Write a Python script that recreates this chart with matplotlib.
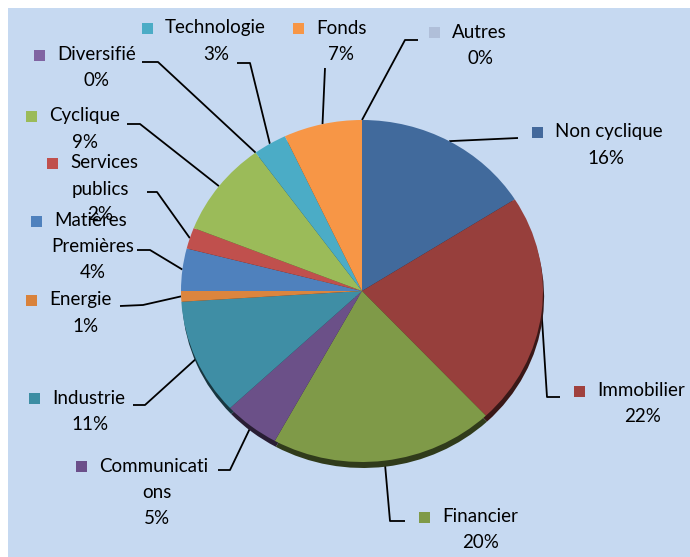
import numpy as np
import matplotlib.pyplot as plt
import matplotlib.colors as mcolors
from matplotlib.patches import Rectangle

# sector breakdown, clockwise from 12 o'clock
sectors = ["Non cyclique", "Immobilier", "Financier", "Communications",
           "Industrie", "Energie", "Matières Premières", "Services publics",
           "Cyclique", "Diversifié", "Technologie", "Fonds", "Autres"]
shares = [16, 22, 20, 5, 11, 1, 4, 2, 9, 0, 3, 7, 0]

# how the names are wrapped in the chart
label_lines = [["Non cyclique"], ["Immobilier"], ["Financier"],
               ["Communicati", "ons"], ["Industrie"], ["Energie"],
               ["Matières", "Premières"], ["Services", "publics"],
               ["Cyclique"], ["Diversifié"], ["Technologie"], ["Fonds"],
               ["Autres"]]

slice_colors = ["#416A9C", "#973F3C", "#7F9A48", "#6B5088", "#3F8EA5",
                "#DC853E", "#4F81BD", "#C0504D", "#9BBB59", "#8064A2",
                "#4BACC6", "#F79646", "#B0BFD9"]
marker_colors = ["#43699C", "#A0413E", "#7F9A48", "#6B4F8A", "#3C8DA3",
                 "#D9823B", "#4F81BD", "#C0504D", "#9BBB59", "#8064A2",
                 "#4BACC6", "#F79646", "#B0BFD9"]

# label layout in pixels: left of name text, first line y, centre of other lines
label_pos = [(555, 132, 606), (597, 391, 643), (442, 517, 481),
             (99, 466, 157), (52, 398, 90), (49, 300, 85),
             (54, 221, 93), (70, 163, 100), (49, 116, 85),
             (57, 55, 97), (165, 28, 216), (316, 28, 341),
             (452, 32, 480)]
# leader line points on the label side (pixels), the pie end is computed
leaders = [[(518, 138)], [(560, 397), (547, 397)], [(405, 521), (390, 521)],
           [(218, 470), (230, 470)], [(133, 405), (145, 405)],
           [(120, 306), (143, 305)], [(137, 250), (150, 250)],
           [(147, 192), (157, 192)], [(127, 124), (140, 124)],
           [(142, 62), (158, 62)], [(237, 63), (250, 63)],
           [(325, 68)], [(418, 40), (405, 40)]]

W, H = 690, 557
fig = plt.figure(figsize=(W / 100, H / 100), dpi=100)
fig.patch.set_facecolor("white")

bg = fig.add_axes([0, 0, 1, 1])
bg.set_xlim(0, W)
bg.set_ylim(H, 0)
bg.axis("off")
bg.add_patch(Rectangle((8, 8), W - 8, H - 8, facecolor="#C6D9F1",
                       edgecolor="none", zorder=0))

# pie axes: ellipse box 181..543 x 120..462 px
pl, pr, pt, pb = 181, 543, 120, 462
pax = fig.add_axes([pl / W, (H - pb) / H, (pr - pl) / W, (pb - pt) / H])
pax.patch.set_alpha(0)

shadow_colors = [np.array(mcolors.to_rgb(c)) * 0.38 for c in slice_colors]
sh, _ = pax.pie(shares, colors=shadow_colors, startangle=90, counterclock=False,
                center=(0.006, -0.035), wedgeprops=dict(linewidth=0))
for w in sh:
    w.set_clip_on(False)
wedges, _ = pax.pie(shares, colors=slice_colors, startangle=90,
                    counterclock=False, wedgeprops=dict(linewidth=0))
for w in wedges:
    w.set_clip_on(False)
pax.set_aspect("auto")
pax.set_xlim(-1, 1)
pax.set_ylim(-1, 1)
pax.axis("off")

font = "Lato"
fs = 13.5
to_bg = bg.transData.inverted()
for i, name in enumerate(sectors):
    x0, y0, cx = label_pos[i]
    lines = label_lines[i]
    bg.add_patch(Rectangle((x0 - 18 - 5.5, y0 - 5.5), 11, 11,
                           facecolor=marker_colors[i], edgecolor="none", zorder=3))
    bg.text(x0, y0, lines[0], ha="left", va="center", fontsize=fs,
            family=font, color="black", zorder=4)
    rest = lines[1:] + ["%d%%" % round(shares[i])]
    for k, t in enumerate(rest):
        bg.text(cx, y0 + 26 * (k + 1), t, ha="center", va="center",
                fontsize=fs, family=font, color="black", zorder=4)

    w = wedges[i]
    mid = np.deg2rad((w.theta1 + w.theta2) / 2)
    disp = pax.transData.transform((np.cos(mid), np.sin(mid)))
    ex, ey = to_bg.transform(disp)
    pts = leaders[i] + [(ex, ey)]
    bg.plot([p[0] for p in pts], [p[1] for p in pts], color="black",
            lw=1.3, zorder=2, solid_capstyle="butt")

fig.savefig("out.png", dpi=100, facecolor=fig.get_facecolor())
